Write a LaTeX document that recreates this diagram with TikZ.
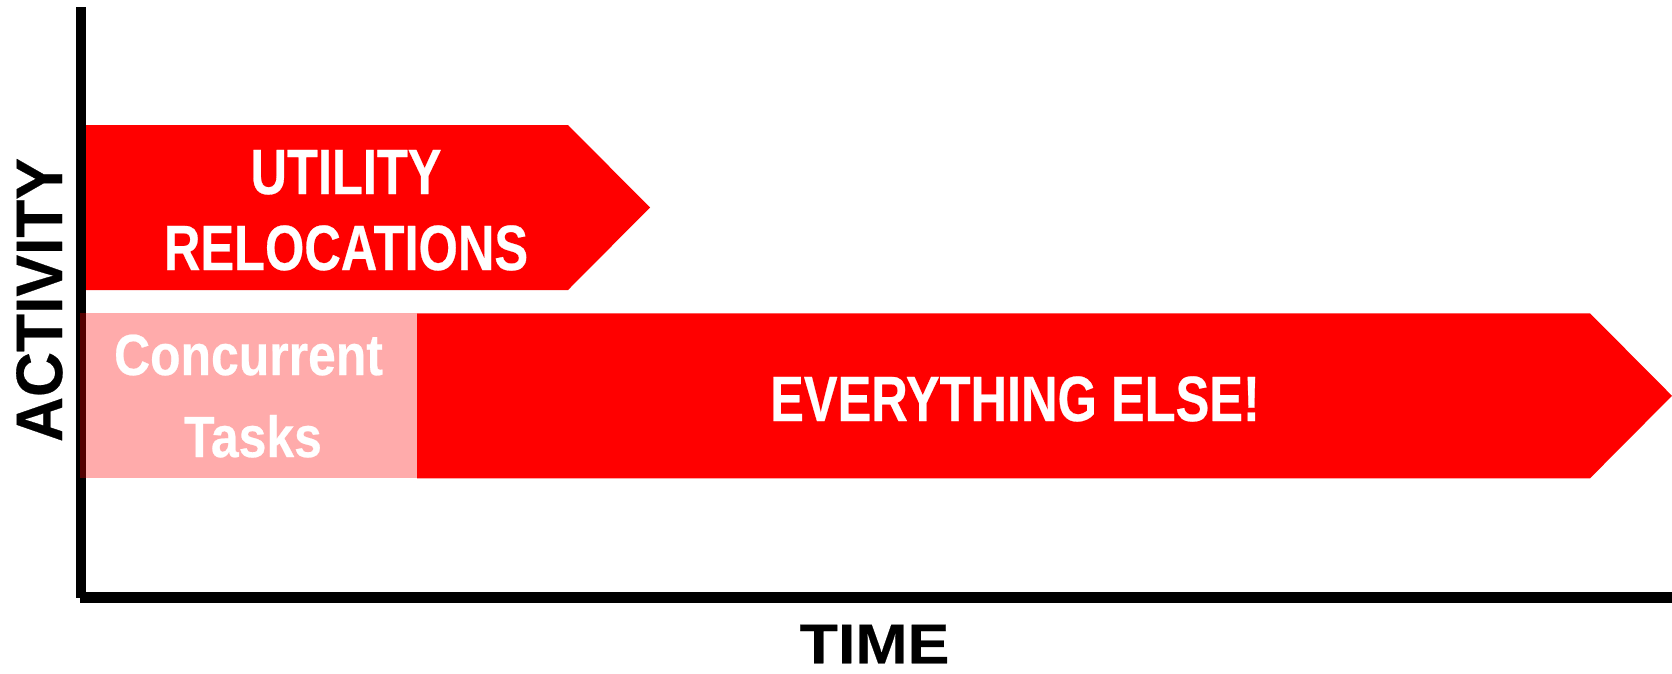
\documentclass[tikz,border=0pt]{standalone}
\usepackage{fontspec}
\setmainfont{Liberation Sans}
\newfontfamily\fnarrow{Liberation Sans Bold}[FakeStretch=0.79,FakeBold=0.4]
\newfontfamily\fconc{Liberation Sans Bold}[FakeStretch=0.86,FakeBold=0.4]
\newfontfamily\fact{Liberation Sans Bold}[FakeStretch=0.95,FakeBold=0.4]
\newfontfamily\ftime{Liberation Sans Bold}[FakeStretch=1.12,FakeBold=0.4]
\definecolor{barred}{RGB}{255,0,0}
\tikzset{
  axisline/.style={line width=10.5pt, black},
  bar/.style={fill=barred, draw=none},
  pinkbar/.style={fill=barred, fill opacity=0.33, draw=none},
  bartext/.style={text=white, inner sep=0pt, anchor=base},
  axistext/.style={text=black, inner sep=0pt, anchor=base},
}
\begin{document}
\begin{tikzpicture}[x=1pt, y=-1pt]
\useasboundingbox (0,0) rectangle (1672,673);
% bars
\fill[bar] (81,125) -- (568,125) -- (650,207.5) -- (568,290) -- (81,290) -- cycle;
\fill[bar] (417,313.3) -- (1590,313.3) -- (1672,395.8) -- (1590,478.3) -- (417,478.3) -- cycle;
% axes
\draw[axisline] (81,7) -- (81,597.5);
\draw[line width=11.5pt] (80,597.5) -- (1672,597.5);
% concurrent (translucent) block
\fill[pinkbar] (80,313.3) rectangle (417,478.3);
% texts
\node[bartext] (util) at (346,194) {\fnarrow\fontsize{64}{64}\selectfont UTILITY};
\node[bartext] (reloc) at (346,270) {\fnarrow\fontsize{64}{64}\selectfont RELOCATIONS};
\node[bartext] (else) at (1015,421) {\fnarrow\fontsize{64}{64}\selectfont EVERYTHING ELSE!};
\node[bartext] (conc) at (248.5,375) {\fconc\fontsize{58}{58}\selectfont Concurrent};
\node[bartext] (tasks) at (253,457) {\fconc\fontsize{58}{58}\selectfont Tasks};
\node[axistext, rotate=90] (act) at (62,300) {\fact\fontsize{65.6}{65.6}\selectfont ACTIVITY};
\node[axistext] (time) at (874.5,663.3) {\ftime\fontsize{56}{56}\selectfont TIME};
\end{tikzpicture}
\end{document}
